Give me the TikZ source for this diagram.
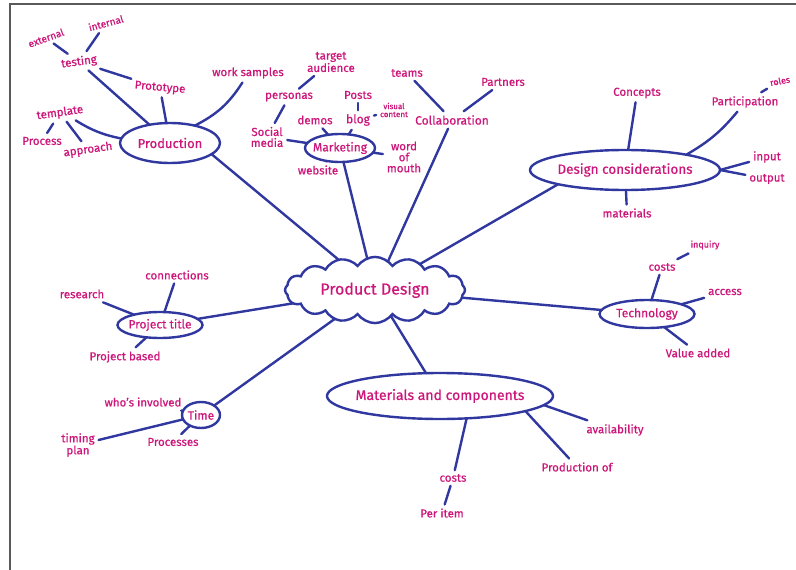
\documentclass[tikz,border=0pt]{standalone}
\usepackage{fontspec}
\setmainfont{Fira Sans}[FakeBold=0.6]
\usetikzlibrary{shapes.geometric,shapes.symbols}
\definecolor{pen}{RGB}{48,56,160}
\definecolor{ink}{RGB}{205,22,122}
\begin{document}
\begin{tikzpicture}[x=1pt,y=-1pt,line width=2.4pt,
	every node/.style={text=ink,font=\fontsize{11.5}{11}\selectfont,inner sep=1pt,outer sep=3pt,align=center},
	topic/.style={draw=pen,ellipse,inner sep=0pt,outer sep=0pt,font=\fontsize{12}{12}\selectfont},
	link/.style={draw=pen,line cap=round}]
	% paper
	\useasboundingbox (0,0) rectangle (796,570);
	\fill[white] (0,0) rectangle (796,570);
	\draw[gray!70!black,line width=1.5pt] (10,570) -- (10,4) -- (796,4);
	% centre
	\node[cloud,draw=pen,cloud puffs=16,cloud puff arc=110,aspect=3,minimum width=180pt,minimum height=58pt,inner sep=0pt,outer sep=0pt,font=\fontsize{16}{16}\selectfont] (pd) at (375,290) {Product Design};
	% Production
	\node[topic,minimum width=100pt,minimum height=40pt,font=\fontsize{13}{13}\selectfont] (prod) at (170,143) {Production};
	\node[rotate=8] (test) at (79,62) {testing};
	\node[rotate=20,font=\fontsize{10}{10}\selectfont] (ext) at (46,38) {external};
	\node[rotate=15,font=\fontsize{10}{10}\selectfont] (int) at (106,23) {internal};
	\node[rotate=-5] (proto) at (160,88) {Prototype};
	\node[rotate=8] (templ) at (60,113) {template};
	\node (proc) at (42,141) {Process};
	\node[rotate=8] (appr) at (88,150) {approach};
	\node (work) at (248,73) {work samples};
	\foreach \a/\b in {ext/test,int/test,test/prod,test/proto,proto/prod,templ/proc,templ/appr}
	\draw[link] (\a) -- (\b);
	\draw[link] (templ) to[bend right=10] (prod);
	\draw[link] (work) to[bend left=15] (prod.35);
	\draw[link] (prod.-15) -- (pd);
	% Marketing
	\node[topic,minimum width=70pt,minimum height=28pt,inner xsep=-4pt] (mkt) at (340,148) {Marketing};
	\node (pers) at (289,97) {personas};
	\node (targ) at (331,62) {target\\audience};
	\node (soc) at (267,137) {Social\\media};
	\node (demo) at (315,120) {demos};
	\node[font=\fontsize{12}{12}\selectfont] (blog) at (358,120) {blog};
	\node (post) at (358,95) {Posts};
	\node[font=\fontsize{8}{8}\selectfont] (vis) at (394,110) {visual\\content};
	\node (wom) at (404,157) {word\\of\\mouth};
	\node (web) at (318,170) {website};
	\foreach \a/\b in {pers/targ,pers/soc,soc/mkt,demo/mkt,blog/mkt,post/blog,blog/vis,mkt/wom,mkt/web,mkt/pd}
	\draw[link] (\a) -- (\b);
	% Collaboration
	\node[font=\fontsize{12}{12}\selectfont] (coll) at (452,120) {Collaboration};
	\node (team) at (407,73) {teams};
	\node (part) at (503,82) {Partners};
	\foreach \a/\b in {team/coll,part/coll,coll/pd}
	\draw[link] (\a) -- (\b);
	% Design considerations
	\node[topic,minimum width=190pt,minimum height=40pt,inner xsep=-3pt,font=\fontsize{13.5}{13}\selectfont] (dc) at (625,170) {Design considerations};
	\node (conc) at (637,93) {Concepts};
	\node (parti) at (745,102) {Participation};
	\node[rotate=10,font=\fontsize{9}{9}\selectfont] (role) at (780,81) {roles};
	\node (inp) at (767,157) {input};
	\node (outp) at (767,179) {output};
	\node (mat) at (627,213) {materials};
	\foreach \a/\b in {conc/dc,parti/role,dc.east/inp,dc.east/outp,mat/dc}
	\draw[link] (\a) -- (\b);
	\draw[link] (parti) to[bend left=10] (dc.14);
	\draw[link] (dc.192) -- (pd);
	% Technology
	\node[topic,minimum width=95pt,minimum height=28pt] (tech) at (647,314) {Technology};
	\node (cost1) at (662,267) {costs};
	\node[font=\fontsize{9}{9}\selectfont] (inq) at (705,245) {inquiry};
	\node (acc) at (725,292) {access};
	\node (val) at (698,353) {Value added};
	\foreach \a/\b in {cost1/tech,cost1/inq,tech/acc,tech/val,pd/tech}
	\draw[link] (\a) -- (\b);
	% Project title
	\node[topic,minimum width=85pt,minimum height=26pt,inner xsep=-3pt] (title) at (160,325) {Project title};
	\node (conn) at (177,275) {connections};
	\node (res) at (82,294) {research};
	\node (pbas) at (125,357) {Project based};
	\foreach \a/\b in {conn/title,res/title,pbas/title,title/pd}
	\draw[link] (\a) -- (\b);
	% Time
	\node[topic,minimum width=38pt,minimum height=26pt] (time) at (201,415) {Time};
	\node (who) at (143,402) {who's involved};
	\node (plan) at (78,445) {timing\\plan};
	\node (procs) at (173,442) {Processes};
	\foreach \a/\b in {who/time,plan/time,procs/time,time/pd}
	\draw[link] (\a) -- (\b);
	% Materials and components
	\node[topic,minimum width=226pt,minimum height=46pt,inner xsep=-5pt,font=\fontsize{14}{14}\selectfont] (mc) at (440,396) {Materials and components};
	\node (cost2) at (453,478) {costs};
	\node (item) at (442,513) {Per item};
	\node (prodof) at (577,467) {Production of};
	\node (avail) at (615,430) {availability};
	\foreach \a/\b in {pd/mc,mc.320/cost2,cost2/item,mc.350/prodof,mc.355/avail}
	\draw[link] (\a) -- (\b);
\end{tikzpicture}
\end{document}
